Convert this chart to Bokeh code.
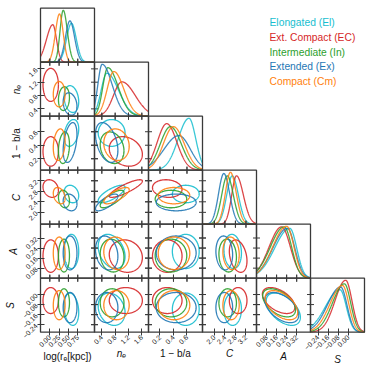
import math
import numpy as np
from bokeh.plotting import figure
from bokeh.models import (LinearAxis, FixedTicker, Range1d, ColumnDataSource,
                          CustomJSTickFormatter)
from bokeh.embed import file_html
from bokeh.resources import INLINE
from bokeh.core.properties import value

# ---------------- data ----------------
group_names = ["Elongated (El)", "Ext. Compact (EC)", "Intermediate (In)", "Extended (Ex)", "Compact (Cm)"]
group_colors = ["#17becf", "#d62728", "#2ca02c", "#1f77b4", "#ff7f0e"]

var_titles = ["log(rₑ[kpc])", "nₑ", "1 − b/a", "C", "A", "S"]
var_title_style = ["normal", "italic", "normal", "italic", "italic", "italic"]
var_lo = [-0.25, 0.18, 0.03, 1.55, 0.00, -0.30]
var_hi = [1.20, 1.80, 0.83, 3.60, 0.43, 0.13]
var_ticks = [[0.0, 0.25, 0.5, 0.75], [0.4, 0.8, 1.2, 1.6], [0.2, 0.4, 0.6],
             [2.0, 2.4, 2.8, 3.2], [0.08, 0.16, 0.24, 0.32], [-0.24, -0.16, -0.08, 0.0]]
var_decimals = [2, 1, 1, 1, 2, 2]

# split-normal summaries per group (El, EC, In, Ex, Cm): mode, left width, right width
logr_mode = [0.58, 0.08, 0.36, 0.54, 0.26]
logr_sl = [0.13, 0.17, 0.085, 0.12, 0.11]
logr_sr = [0.13, 0.10, 0.11, 0.125, 0.10]
ne_mode = [0.55, 1.00, 0.58, 0.41, 0.76]
ne_sl = [0.17, 0.25, 0.15, 0.13, 0.20]
ne_sr = [0.35, 0.40, 0.31, 0.30, 0.30]
q_mode = [0.63, 0.30, 0.355, 0.48, 0.40]
q_sl = [0.16, 0.14, 0.15, 0.22, 0.15]
q_sr = [0.10, 0.15, 0.16, 0.17, 0.16]
c_mode = [2.68, 2.84, 2.49, 2.36, 2.61]
c_sl = [0.21, 0.18, 0.21, 0.20, 0.19]
c_sr = [0.23, 0.26, 0.23, 0.22, 0.22]
a_mode = [0.265, 0.20, 0.22, 0.245, 0.24]
a_sl = [0.12, 0.10, 0.11, 0.115, 0.11]
a_sr = [0.055, 0.07, 0.06, 0.06, 0.058]
s_mode = [-0.065, -0.02, -0.03, -0.06, -0.045]
s_sl = [0.115, 0.085, 0.095, 0.105, 0.10]
s_sr = [0.05, 0.05, 0.05, 0.05, 0.05]

modes = [logr_mode, ne_mode, q_mode, c_mode, a_mode, s_mode]
lefts = [logr_sl, ne_sl, q_sl, c_sl, a_sl, s_sl]
rights = [logr_sr, ne_sr, q_sr, c_sr, a_sr, s_sr]

# pairwise correlations per group (El, EC, In, Ex, Cm)
corr_logr_ne = [-0.2, 0.0, 0.1, -0.2, 0.0]
corr_logr_q = [0.3, 0.0, 0.2, 0.4, 0.2]
corr_logr_c = [-0.2, -0.2, -0.2, -0.2, -0.3]
corr_logr_a = [0.0, 0.0, 0.0, 0.0, 0.0]
corr_logr_s = [-0.2, 0.0, 0.0, 0.0, 0.0]
corr_ne_q = [0.0, -0.2, -0.2, -0.4, -0.1]
corr_ne_c = [0.75, 0.85, 0.75, 0.75, 0.75]
corr_ne_a = [-0.3, -0.1, -0.1, -0.2, -0.1]
corr_ne_s = [-0.2, 0.0, 0.0, 0.0, 0.0]
corr_q_c = [0.0, -0.1, 0.0, 0.0, 0.0]
corr_q_a = [0.0, 0.0, 0.0, 0.0, 0.0]
corr_q_s = [0.0, 0.0, 0.0, 0.0, 0.0]
corr_c_a = [-0.1, -0.3, -0.1, -0.1, -0.1]
corr_c_s = [0.0, 0.0, 0.0, 0.0, 0.0]
corr_a_s = [-0.5, -0.5, -0.5, -0.5, -0.5]

corr = {(0, 1): corr_logr_ne, (0, 2): corr_logr_q, (0, 3): corr_logr_c, (0, 4): corr_logr_a,
        (0, 5): corr_logr_s, (1, 2): corr_ne_q, (1, 3): corr_ne_c, (1, 4): corr_ne_a,
        (1, 5): corr_ne_s, (2, 3): corr_q_c, (2, 4): corr_q_a, (2, 5): corr_q_s,
        (3, 4): corr_c_a, (3, 5): corr_c_s, (4, 5): corr_a_s}

# ---------------- layout constants ----------------
N = 6
W = H = 373
P = 54          # panel size (px)
X0 = 40         # left edge of the panel grid (px)
TOP = 7.7       # top edge of the panel grid (px)
FONT = "Liberation Sans"
EDGE = "#3a3a3a"
LEVEL = math.sqrt(-2 * math.log(0.32))


def split_normal(x, m, sl, sr):
    s = np.where(x < m, sl, sr)
    return 2.0 / (math.sqrt(2 * math.pi) * (sl + sr)) * np.exp(-0.5 * ((x - m) / s) ** 2)


def mean_sd(k, g):
    m, sl, sr = modes[k][g], lefts[k][g], rights[k][g]
    mu = m + math.sqrt(2 / math.pi) * (sr - sl)
    sd = math.sqrt((1 - 2 / math.pi) * (sr - sl) ** 2 + sl * sr)
    return mu, sd


def col_px(j):
    return X0 + j * P, X0 + (j + 1) * P


def row_px(i):
    top = H - (TOP + i * P)
    return top - P, top


p = figure(width=W, height=H, x_range=Range1d(0, W), y_range=Range1d(0, H),
           output_backend="svg", toolbar_location=None, tools="", title=None,
           x_axis_location=None, y_axis_location=None, min_border=0)
p.grid.visible = False
p.outline_line_color = None
p.background_fill_color = "white"
p.border_fill_color = "white"

fmts = [CustomJSTickFormatter(code="const s = Math.abs(tick).toFixed(%d); return (tick < -1e-9 ? '\\u2212' : '') + s;" % d)
        for d in var_decimals]

# one scale per column (x) and per row (y), mapped onto the panel grid
xr_extra, yr_extra = {}, {}
for k in range(N):
    s = (var_hi[k] - var_lo[k]) / P
    xl, _ = col_px(k)
    xs0 = var_lo[k] - xl * s
    xr_extra["c%d" % k] = Range1d(xs0, xs0 + W * s)
    yb, _ = row_px(k)
    ys0 = var_lo[k] - yb * s
    yr_extra["r%d" % k] = Range1d(ys0, ys0 + H * s)
p.extra_x_ranges = xr_extra
p.extra_y_ranges = yr_extra


def style_axis(ax, k, title, style, title_standoff):
    ax.ticker = FixedTicker(ticks=var_ticks[k])
    ax.bounds = (var_lo[k], var_hi[k])
    ax.axis_line_color = None
    ax.minor_tick_line_color = None
    ax.major_tick_in = 4
    ax.major_tick_out = 3
    ax.major_tick_line_color = EDGE
    ax.major_tick_line_width = 1
    ax.formatter = fmts[k]
    ax.major_label_orientation = math.pi / 4
    ax.major_label_text_font_size = "7px"
    ax.major_label_text_font = FONT
    ax.major_label_text_color = "#222222"
    ax.major_label_standoff = 1
    ax.axis_label = title
    ax.axis_label_text_font = FONT
    ax.axis_label_text_font_size = "10px"
    ax.axis_label_text_font_style = style
    ax.axis_label_text_color = "#111111"
    ax.axis_label_standoff = title_standoff


for k in range(N):
    bx = LinearAxis(x_range_name="c%d" % k, fixed_location=row_px(N - 1)[0])
    style_axis(bx, k, var_titles[k], var_title_style[k], -2)
    p.add_layout(bx, "below")
    if k > 0:
        ly = LinearAxis(y_range_name="r%d" % k, fixed_location=X0)
        style_axis(ly, k, var_titles[k], var_title_style[k], 1)
        p.add_layout(ly, "left")


def edge_ticks(sub, side, k, xr, yr):
    ticks = var_ticks[k]
    n = len(ticks)
    if side == "below":
        xs, ys, ang = ticks, [yr[0]] * n, math.pi / 2
    elif side == "above":
        xs, ys, ang = ticks, [yr[1]] * n, math.pi / 2
    elif side == "left":
        xs, ys, ang = [xr[0]] * n, ticks, 0.0
    else:
        xs, ys, ang = [xr[1]] * n, ticks, 0.0
    sub.scatter(xs, ys, marker="dash", size=7, angle=ang, line_color=EDGE, line_width=1)


t = np.linspace(0, 2 * math.pi, 160)
for i in range(N):
    for j in range(i + 1):
        xr = (var_lo[j], var_hi[j])
        xl, xrr = col_px(j)
        yb, yt = row_px(i)
        if i == j:
            xs = np.linspace(var_lo[j], var_hi[j], 240)
            dens = [split_normal(xs, modes[j][g], lefts[j][g], rights[j][g]) for g in range(5)]
            yr = (0.0, max(float(d.max()) for d in dens) * 1.04)
        else:
            yr = (var_lo[i], var_hi[i])
        sub = p.subplot(x_source=Range1d(*xr), y_source=Range1d(*yr),
                        x_target=Range1d(xl, xrr), y_target=Range1d(yb, yt))
        if i == j:
            for g in range(5):
                sub.line(xs, dens[g], line_color=group_colors[g], line_width=1.3, line_alpha=0.85)
            if i < N - 1:
                edge_ticks(sub, "below", j, xr, yr)
        else:
            for g in range(5):
                mx, sx = mean_sd(j, g)
                my, sy = mean_sd(i, g)
                r = corr[(j, i)][g]
                cov = np.array([[sx * sx, r * sx * sy], [r * sx * sy, sy * sy]])
                L = np.linalg.cholesky(cov)
                pts = L @ (LEVEL * np.vstack([np.cos(t), np.sin(t)]))
                sub.line(pts[0] + mx, pts[1] + my, line_color=group_colors[g], line_width=1.3, line_alpha=0.9)
            if i < N - 1:
                edge_ticks(sub, "below", j, xr, yr)
            edge_ticks(sub, "above", j, xr, yr)
            if j > 0:
                edge_ticks(sub, "left", i, xr, yr)
            edge_ticks(sub, "right", i, xr, yr)
        sub.quad(left=[xr[0]], right=[xr[1]], bottom=[yr[0]], top=[yr[1]],
                 fill_color=None, line_color=EDGE, line_width=1.3)

# legend: coloured labels in the empty upper triangle
leg_src = ColumnDataSource(dict(x=[269] * len(group_names),
                                y=[H - (22 + 14.8 * k) for k in range(len(group_names))],
                                label=group_names, color=group_colors))
p.text(x="x", y="y", text="label", text_color="color", text_font=value(FONT),
       text_font_size="10.3px", text_baseline="middle", source=leg_src)

open("out.html", "w").write(file_html(p, INLINE))
